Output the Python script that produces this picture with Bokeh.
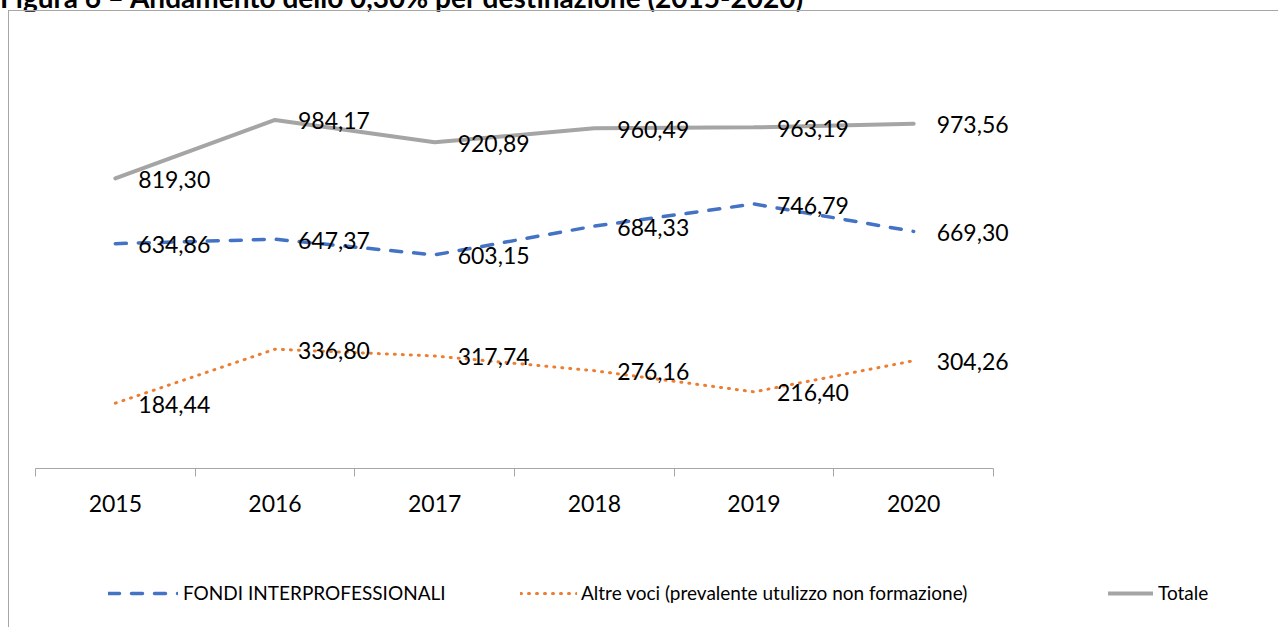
from bokeh.plotting import figure
from bokeh.models import (Range1d, LinearAxis, FixedTicker,
                          Legend, LegendItem, ColumnDataSource, Div)
from bokeh.layouts import column
from bokeh.embed import file_html
from bokeh.resources import INLINE
from bokeh.core.properties import value

# ---- data ----
years = ["2015", "2016", "2017", "2018", "2019", "2020"]
fondi = [634.86, 647.37, 603.15, 684.33, 746.79, 669.30]
altre = [184.44, 336.80, 317.74, 276.16, 216.40, 304.26]
totale = [819.30, 984.17, 920.89, 960.49, 963.19, 973.56]
series_names = ["FONDI INTERPROFESSIONALI",
                "Altre voci (prevalente utulizzo non formazione)",
                "Totale"]
title_text = "Figura 6 – Andamento dello 0,30% per destinazione (2015-2020)"


def fmt(v):
    return f"{v:.2f}".replace(".", ",")


FONT = "Lato"
BLUE, ORANGE, GRAY = "#4472c4", "#ed7d31", "#a5a5a5"
AXIS_GRAY = "#a6a6a6"
BORDER = "1px solid #a6a6a6"

# style per series
styles = {
    "fondi": dict(line_color=BLUE, line_width=3.5, line_dash="11 12", line_cap="round"),
    "altre": dict(line_color=ORANGE, line_width=3, line_dash="1 7", line_cap="round"),
    "totale": dict(line_color=GRAY, line_width=4, line_cap="round"),
}

# category slots: each year occupies one unit; point at the slot centre
n = len(years)
centers = [i + 0.5 for i in range(n)]
edges = list(range(n + 1))

src = ColumnDataSource(dict(
    x=centers, year=years, fondi=fondi, altre=altre, totale=totale,
    fondi_lbl=[fmt(v) for v in fondi],
    altre_lbl=[fmt(v) for v in altre],
    totale_lbl=[fmt(v) for v in totale],
))

# ---- layout geometry (pixels) ----
W = 1270
LEFT = 26
AXIS_PX = 958            # length of the category axis
H_MAIN = 517
x_end = n * (W - LEFT) / AXIS_PX   # frame extends to the right so labels are not clipped

p = figure(width=W, height=H_MAIN,
           x_range=Range1d(0, x_end), y_range=Range1d(0, 1200),
           x_axis_location=None, y_axis_location=None,
           output_backend="svg", toolbar_location=None,
           min_border_left=LEFT, min_border_right=0,
           min_border_top=32, min_border_bottom=60,
           margin=(0, 0, 0, 8))
p.xgrid.visible = False
p.ygrid.visible = False
p.outline_line_color = None
p.styles = {"border-top": BORDER, "border-left": BORDER}

xaxis = LinearAxis(ticker=FixedTicker(ticks=centers, minor_ticks=edges),
                   bounds=(0, n),
                   major_label_overrides={c: y for c, y in zip(centers, years)},
                   axis_line_color=AXIS_GRAY, axis_line_width=1,
                   major_tick_line_color=None, major_tick_out=0, major_tick_in=0,
                   minor_tick_line_color=AXIS_GRAY, minor_tick_out=8, minor_tick_in=0,
                   major_label_text_font=FONT, major_label_text_font_size="23px",
                   major_label_text_color="#000000", major_label_standoff=18)
p.add_layout(xaxis, "below")

for col in ["totale", "fondi", "altre"]:
    p.line("x", col, source=src, **styles[col])

for col in ["totale", "fondi", "altre"]:
    p.text("x", col, text=col + "_lbl", source=src, x_offset=23, y_offset=1,
           text_baseline="middle", text_align="left",
           text_font=value(FONT), text_font_size="23px", text_color="#000000")

# ---- legend strip (same series, drawn outside this strip's visible range) ----
H_LEG = 100
q = figure(width=W, height=H_LEG, x_range=Range1d(0, 1), y_range=Range1d(0, 1),
           x_axis_location=None, y_axis_location=None,
           output_backend="svg", toolbar_location=None,
           min_border=0, margin=(0, 0, 0, 8))
q.xgrid.visible = False
q.ygrid.visible = False
q.outline_line_color = None
q.styles = {"border-left": BORDER}

legend_specs = [
    ("fondi", series_names[0], 73, 70, 5),
    ("altre", series_names[1], 485, 57, 4),
    ("totale", series_names[2], 1073, 45, 5),
]
for key, name, lx, gw, st in legend_specs:
    r = q.line("x", key, source=src, **styles[key])
    leg = Legend(items=[LegendItem(label=name, renderers=[r])],
                 location=(lx, 23), orientation="horizontal",
                 glyph_width=gw, glyph_height=20, label_standoff=st,
                 label_text_font=FONT, label_text_font_size="19px",
                 label_text_color="#000000",
                 padding=0, margin=0, spacing=0,
                 border_line_color=None, background_fill_alpha=0)
    q.add_layout(leg)

title = Div(text=title_text, width=1100, height=14, margin=(-10, 0, 6, 0),
            styles={"font-family": FONT, "font-weight": "bold", "font-size": "28px",
                    "line-height": "14px", "white-space": "nowrap", "color": "#000000"})

layout = column(title, p, q, spacing=0)
open("out.html", "w").write(file_html(layout, INLINE))
